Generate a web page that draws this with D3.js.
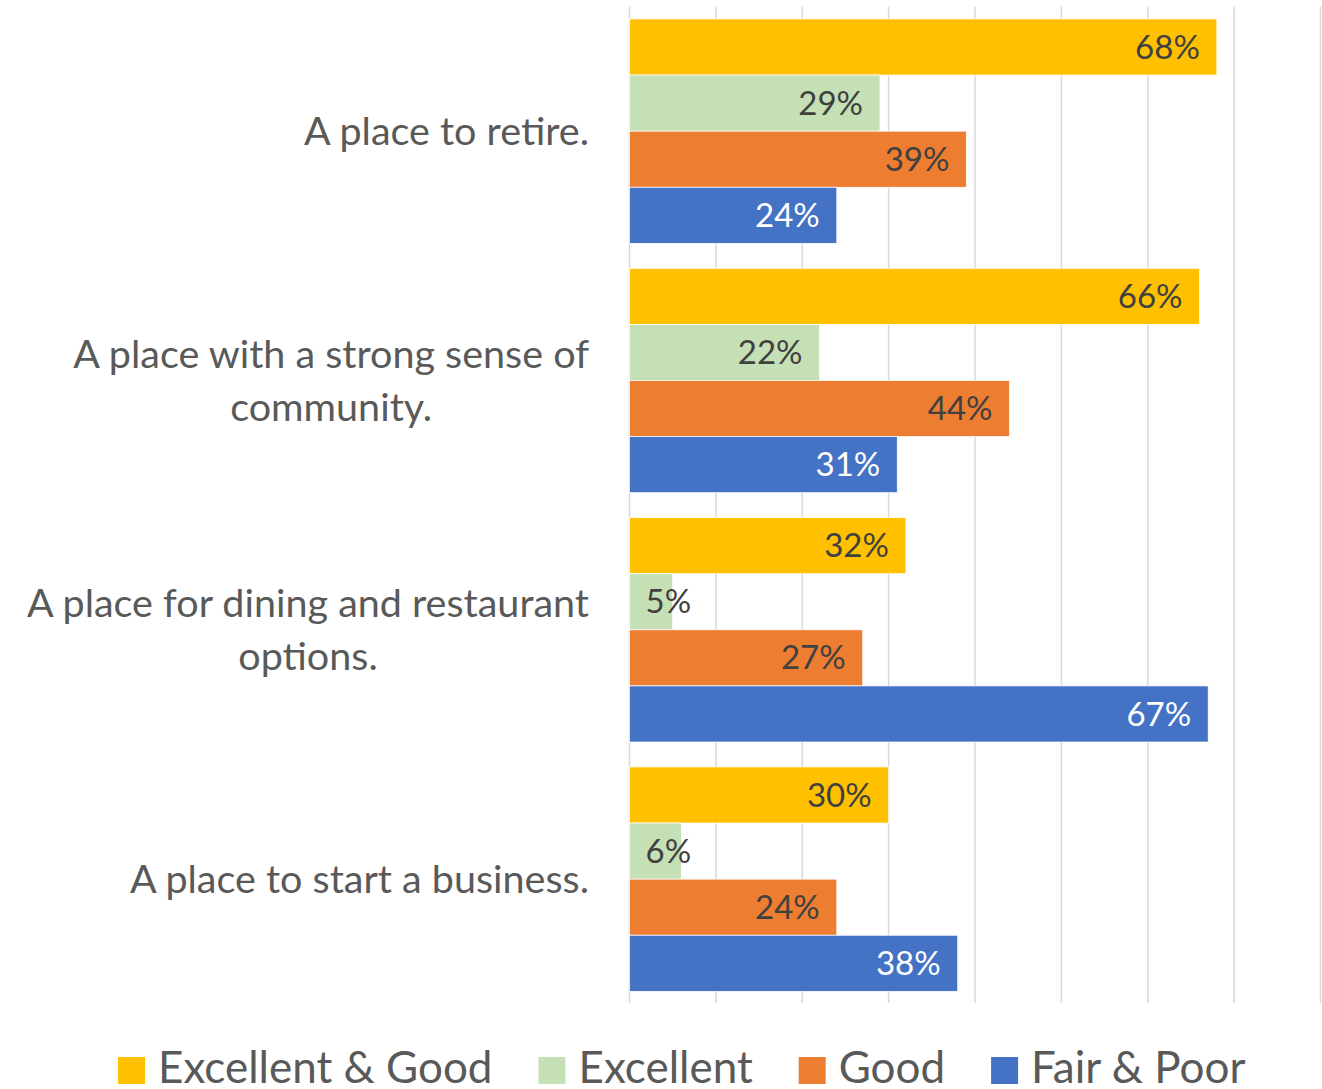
<!DOCTYPE html>
<html>
<head>
	<meta charset="utf-8" />
	<style type="text/css">
	*{margin:0px;padding:0px;}
	body{background:#fff;}
	svg text{font-family: Lato, "Open Sans", sans-serif;}
	</style>
</head>
<body>
	<script type="text/javascript" src="https://cdn.jsdelivr.net/npm/d3@7"></script>
	<script type="text/javascript">

		// data
		var categories = [
			["A place to retire."],
			["A place with a strong sense of", "community."],
			["A place for dining and restaurant", "options."],
			["A place to start a business."]
		];
		var series = ["Excellent & Good", "Excellent", "Good", "Fair & Poor"];
		var excellentGood = [0.68, 0.66, 0.32, 0.30];
		var excellent     = [0.29, 0.22, 0.05, 0.06];
		var good          = [0.39, 0.44, 0.27, 0.24];
		var fairPoor      = [0.24, 0.31, 0.67, 0.38];
		var xTicks = [0, 0.1, 0.2, 0.3, 0.4, 0.5, 0.6, 0.7, 0.8];

		var colors = ["#FFC000", "#C5E0B4", "#ED7D31", "#4472C4"];
		var labelColors = ["#404040", "#404040", "#404040", "#ffffff"];
		var values = [excellentGood, excellent, good, fairPoor];

		var W = 1322, H = 1089;
		var svg = d3.select("body").append("svg").attr("width", W).attr("height", H);

		var x = d3.scaleLinear().domain([0, 0.8]).range([629.5, 1320.5]);
		var y = d3.scaleBand().domain(d3.range(categories.length))
			.range([6.5, 1003.8]).paddingInner(0.1).paddingOuter(0.05);
		var ys = d3.scaleBand().domain(d3.range(series.length)).range([0, y.bandwidth()]);

		// gridlines
		svg.append("g").selectAll("line")
			.data(xTicks).enter().append("line")
			.attr("x1", function(d){return x(d)})
			.attr("x2", function(d){return x(d)})
			.attr("y1", 6.5).attr("y2", 1003)
			.attr("stroke", "#d9d9d9").attr("stroke-width", 1.5);

		// bars
		var groups = svg.append("g").selectAll("g")
			.data(categories).enter().append("g")
			.attr("transform", function(d, i){return "translate(0," + y(i) + ")"});

		groups.each(function(c, ci){
			var g = d3.select(this);
			var rows = values.map(function(v, si){return {s: si, v: v[ci]}});
			g.selectAll("rect").data(rows).enter().append("rect")
				.attr("x", x(0))
				.attr("y", function(d){return ys(d.s)})
				.attr("width", function(d){return x(d.v) - x(0)})
				.attr("height", ys.bandwidth())
				.attr("fill", function(d){return colors[d.s]})
				.attr("stroke", "#fff").attr("stroke-width", 0.75);

			g.selectAll("text.val").data(rows).enter().append("text")
				.attr("class", "val")
				.attr("y", function(d){return ys(d.s) + ys.bandwidth()/2})
				.attr("dy", "0.35em")
				.attr("font-size", 33)
				.attr("fill", function(d){return labelColors[d.s]})
				.text(function(d){return Math.round(d.v*100) + "%"})
				.each(function(d){
					var w = this.getComputedTextLength();
					var start = Math.max(x(d.v) - 17 - w, x(0) + 16);
					d3.select(this).attr("x", start);
				});
		});

		// category labels
		var catLabels = svg.append("g").selectAll("text")
			.data(categories).enter().append("text")
			.attr("font-size", 39.5)
			.attr("fill", "#595959")
			.attr("text-anchor", "middle");

		catLabels.each(function(lines, i){
			var t = d3.select(this);
			var cy = y(i) + y.bandwidth()/2;
			var lh = 53;
			var top = cy - (lines.length - 1) * lh / 2;
			var spans = t.selectAll("tspan").data(lines).enter().append("tspan")
				.attr("dy", "0.35em")
				.attr("y", function(d, k){return top + k*lh})
				.text(function(d){return d});
			var maxW = 0;
			spans.each(function(){maxW = Math.max(maxW, this.getComputedTextLength())});
			spans.attr("x", 589 - maxW/2);
		});

		// legend
		var legend = svg.append("g");
		var lx = 118;
		series.forEach(function(s, i){
			legend.append("rect")
				.attr("x", lx).attr("y", 1057)
				.attr("width", 27).attr("height", 27)
				.attr("fill", colors[i]);
			var t = legend.append("text")
				.attr("x", lx + 40).attr("y", 1083)
				.attr("font-size", 44)
				.attr("fill", "#595959")
				.text(s);
			lx = lx + 40 + t.node().getComputedTextLength() + 46;
		});

	</script>
</body>
</html>
